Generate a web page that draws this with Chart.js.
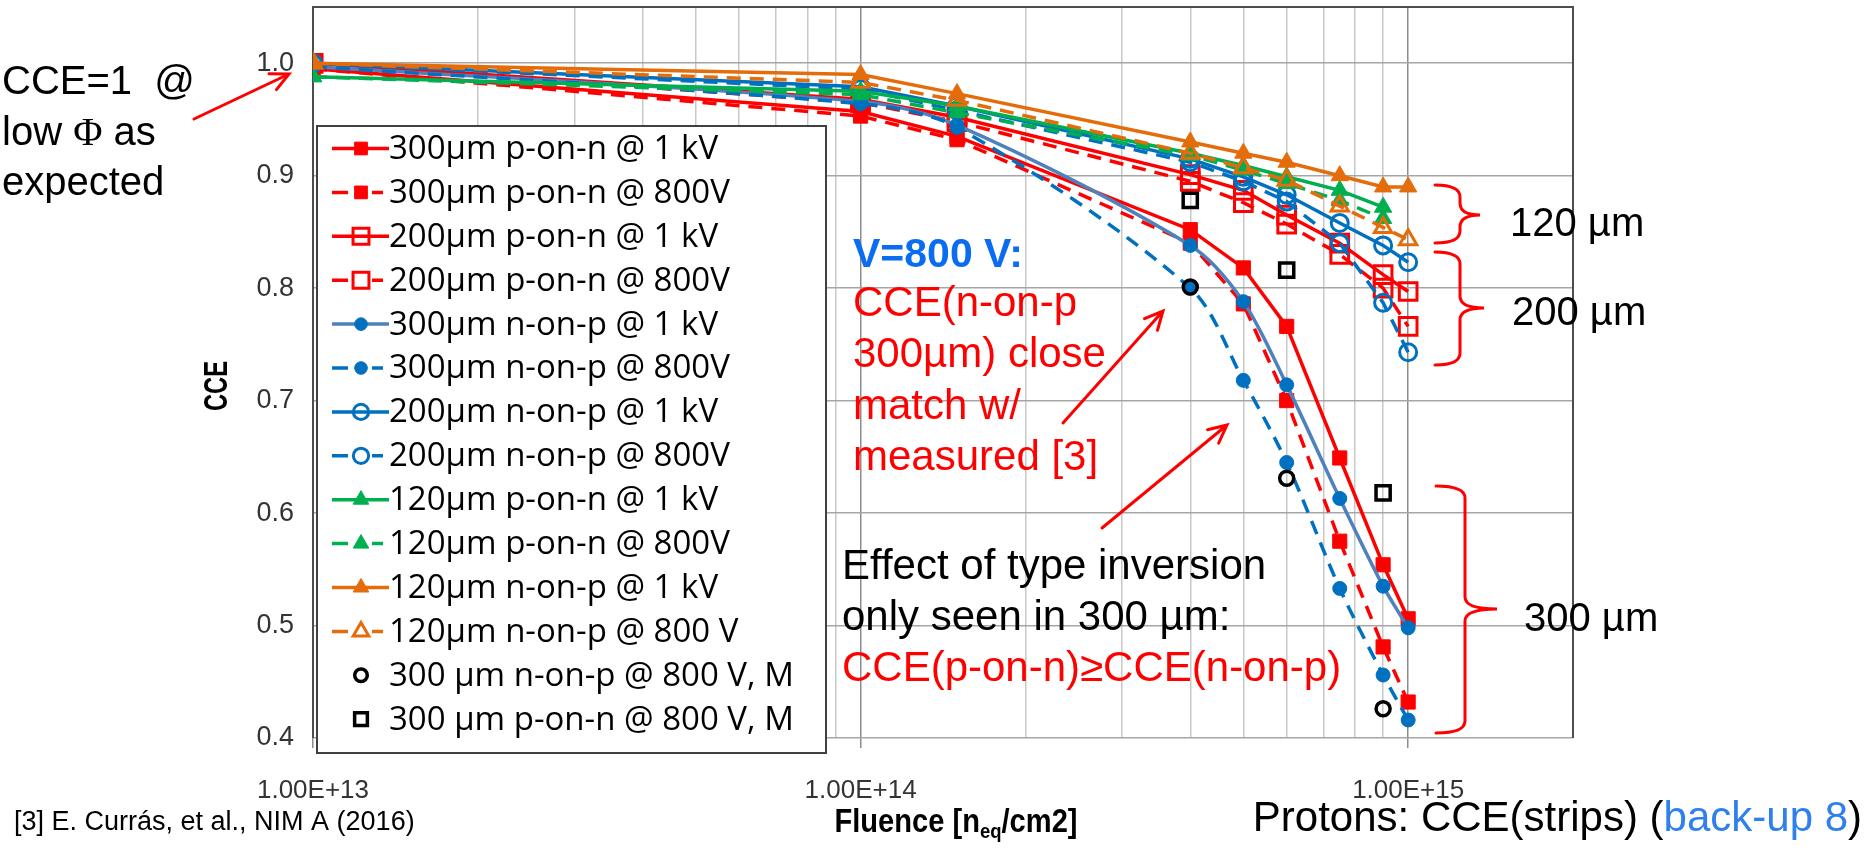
<!DOCTYPE html>
<html>
<head>
<meta charset="utf-8">
<title>Protons: CCE(strips)</title>
<script src="https://cdn.jsdelivr.net/npm/chart.js@4.4.1/dist/chart.umd.min.js"></script>
<style>
  html, body { margin: 0; padding: 0; background: #fff; }
  canvas { display: block; }
</style>
</head>
<body>
<canvas id="cceChart" width="1864" height="850"></canvas>
<script>
// fluence points [n_eq/cm2]
const fluence = [1e13, 1e14, 1.5e14, 4e14, 5e14, 6e14, 7.5e14, 9e14, 1e15];

// simulated CCE (null = no point)
const p300_1kV  = [0.995, 0.957, 0.935, 0.852, 0.818, 0.766, 0.649, 0.554, 0.506];
const p300_800V = [0.995, 0.953, 0.932, 0.840, 0.786, 0.700, 0.575, 0.481, 0.432];
const p200_1kV  = [1.000, 0.968, 0.952, 0.901, 0.887, 0.865, 0.840, 0.812, 0.797];
const p200_800V = [1.000, 0.965, 0.948, 0.895, 0.876, 0.857, 0.830, 0.800, 0.766];
const n300_1kV  = [0.997, 0.966, 0.945, 0.838, 0.788, 0.714, 0.613, 0.535, 0.498];
const n300_800V = [0.997, 0.964, 0.943, 0.800, 0.718, 0.645, 0.533, 0.456, 0.416];
const n200_1kV  = [1.000, 0.979, 0.962, 0.915, 0.899, 0.883, 0.858, 0.838, 0.823];
const n200_800V = [1.000, 0.977, 0.958, 0.912, 0.895, 0.877, 0.840, 0.787, 0.743];
const p120_1kV  = [0.988, 0.975, 0.962, 0.920, 0.909, 0.899, 0.887, 0.872, null];
const p120_800V = [0.988, 0.972, 0.956, 0.918, 0.905, 0.893, 0.878, 0.862, null];
const n120_1kV  = [1.000, 0.990, 0.973, 0.930, 0.920, 0.912, 0.900, 0.890, 0.890];
const n120_800V = [1.000, 0.983, 0.967, 0.920, 0.907, 0.896, 0.873, 0.854, 0.843];
// measured [3]
const meas_n300 = [null, null, null, 0.801, null, 0.631, null, 0.426, null];
const meas_p300 = [null, null, null, 0.878, null, 0.816, null, 0.618, null];

const seriesLabels = [
  '300µm p-on-n @ 1 kV', '300µm p-on-n @ 800V', '200µm p-on-n @ 1 kV', '200µm p-on-n @ 800V',
  '300µm n-on-p @ 1 kV', '300µm n-on-p @ 800V', '200µm n-on-p @ 1 kV', '200µm n-on-p @ 800V',
  '120µm p-on-n @ 1 kV', '120µm p-on-n @ 800V', '120µm n-on-p @ 1 kV', '120µm n-on-p @ 800 V',
  '300 µm n-on-p @ 800 V, M', '300 µm p-on-n @ 800 V, M'
];
const seriesValues = [
  p300_1kV, p300_800V, p200_1kV, p200_800V,
  n300_1kV, n300_800V, n200_1kV, n200_800V,
  p120_1kV, p120_800V, n120_1kV, n120_800V,
  meas_n300, meas_p300
];

const yTickValues = [0.4, 0.5, 0.6, 0.7, 0.8, 0.9, 1.0];
const yTickLabels = ['0.4', '0.5', '0.6', '0.7', '0.8', '0.9', '1.0'];
const xTickValues = [1e13, 1e14, 1e15];
const xTickLabels = ['1.00E+13', '1.00E+14', '1.00E+15'];

// colours / marker styles
const RED = '#ff0000', BLUE = '#0070c0', STEEL = '#4f81bd', GREEN = '#00b050', ORANGE = '#e46c0a';
const styles = [
  {color: RED, dash: false, marker: 'rect', filled: true, r: 10},
  {color: RED, dash: true,  marker: 'rect', filled: true, r: 10},
  {color: RED, dash: false, marker: 'rect', filled: false, r: 12.5},
  {color: RED, dash: true,  marker: 'rect', filled: false, r: 12.5},
  {color: BLUE, lineColor: STEEL, dash: false, marker: 'circle', filled: true, r: 7, smooth: true},
  {color: BLUE, dash: true,  marker: 'circle', filled: true, r: 7, smooth: true},
  {color: BLUE, dash: false, marker: 'circle', filled: false, r: 8.5},
  {color: BLUE, dash: true,  marker: 'circle', filled: false, r: 8.5},
  {color: GREEN, dash: false, marker: 'triangle', filled: true, r: 10},
  {color: GREEN, dash: true,  marker: 'triangle', filled: true, r: 10},
  {color: ORANGE, dash: false, marker: 'triangle', filled: true, r: 10},
  {color: ORANGE, dash: true,  marker: 'triangle', filled: false, r: 10},
  {color: '#000', noLine: true, marker: 'circle', filled: false, r: 7, bw: 3.5},
  {color: '#000', noLine: true, marker: 'rect', filled: false, r: 10, bw: 3.5}
];

const datasets = seriesValues.map((vals, i) => {
  const s = styles[i];
  return {
    label: seriesLabels[i],
    data: fluence.map((f, j) => ({x: f, y: vals[j]})),
    showLine: !s.noLine,
    borderColor: s.lineColor || s.color,
    borderWidth: 3.5,
    borderDash: s.dash ? [14, 9] : [],
    tension: s.smooth ? 0.3 : 0,
    pointStyle: s.marker,
    pointRadius: s.r,
    pointHoverRadius: s.r,
    pointBorderWidth: s.bw || (s.filled ? 1 : 3),
    pointBorderColor: s.color,
    pointBackgroundColor: s.filled ? s.color : 'rgba(0,0,0,0)',
    order: 20 - i
  };
});

const SANS = '"Liberation Sans", Arial, sans-serif';

function text(ctx, str, x, y, font, color, align) {
  ctx.font = font;
  ctx.fillStyle = color;
  ctx.textAlign = align || 'left';
  ctx.textBaseline = 'middle';
  ctx.fillText(str, x, y);
  return ctx.measureText(str).width;
}

function arrow(ctx, x1, y1, x2, y2) {
  const a = Math.atan2(y2 - y1, x2 - x1), h = 20, w = 0.45;
  ctx.beginPath();
  ctx.moveTo(x1, y1);
  ctx.lineTo(x2, y2);
  ctx.moveTo(x2 - h * Math.cos(a - w), y2 - h * Math.sin(a - w));
  ctx.lineTo(x2, y2);
  ctx.lineTo(x2 - h * Math.cos(a + w), y2 - h * Math.sin(a + w));
  ctx.stroke();
}

function brace(ctx, xEnd, top, bottom, xSpine, xTip, yMid) {
  const r = 12;
  ctx.beginPath();
  ctx.moveTo(xEnd, top);
  ctx.quadraticCurveTo(xSpine, top, xSpine, top + r);
  ctx.lineTo(xSpine, yMid - r);
  ctx.quadraticCurveTo(xSpine, yMid, xTip, yMid);
  ctx.quadraticCurveTo(xSpine, yMid, xSpine, yMid + r);
  ctx.lineTo(xSpine, bottom - r);
  ctx.quadraticCurveTo(xSpine, bottom, xEnd, bottom);
  ctx.stroke();
}

function drawMarker(ctx, s, x, y) {
  ctx.save();
  ctx.lineWidth = s.bw || (s.filled ? 1 : 3);
  ctx.strokeStyle = s.color;
  ctx.fillStyle = s.color;
  ctx.setLineDash([]);
  ctx.beginPath();
  if (s.marker === 'rect') {
    const h = s.r * Math.SQRT1_2;
    ctx.rect(x - h, y - h, 2 * h, 2 * h);
  } else if (s.marker === 'circle') {
    ctx.arc(x, y, s.r, 0, Math.PI * 2);
  } else {
    for (let k = 0; k < 3; k++) {
      const a = k * 2 * Math.PI / 3;
      const px = x + Math.sin(a) * s.r, py = y - Math.cos(a) * s.r;
      if (k === 0) ctx.moveTo(px, py); else ctx.lineTo(px, py);
    }
    ctx.closePath();
  }
  if (s.filled) ctx.fill();
  ctx.stroke();
  ctx.restore();
}

const decorations = {
  id: 'decorations',
  beforeDatasetsDraw(chart) {
    const ctx = chart.ctx, a = chart.chartArea;
    ctx.save();
    ctx.strokeStyle = '#4d4d4d';
    ctx.lineWidth = 2;
    ctx.beginPath();
    ctx.moveTo(a.left, a.bottom);
    ctx.lineTo(a.left, a.top);
    ctx.lineTo(a.right, a.top);
    ctx.lineTo(a.right, a.bottom);
    ctx.stroke();
    ctx.restore();
  },
  afterDatasetsDraw(chart) {
    const ctx = chart.ctx;
    ctx.save();

    // legend box
    ctx.fillStyle = '#fff';
    ctx.fillRect(317, 126, 509, 627);
    ctx.strokeStyle = '#404040';
    ctx.lineWidth = 2;
    ctx.strokeRect(317, 126, 509, 627);
    seriesLabels.forEach((lab, i) => {
      const s = styles[i];
      const cy = 148.5 + i * 43.9;
      if (!s.noLine) {
        ctx.strokeStyle = s.lineColor || s.color;
        ctx.lineWidth = 3.5;
        ctx.beginPath();
        if (s.dash) {
          ctx.moveTo(332, cy); ctx.lineTo(348, cy);
          ctx.moveTo(372, cy); ctx.lineTo(383, cy);
        } else {
          ctx.moveTo(332, cy); ctx.lineTo(389, cy);
        }
        ctx.stroke();
      }
      drawMarker(ctx, Object.assign({}, s, {r: s.r * 0.9}), 361, cy);
      text(ctx, lab, 389, cy + 1, '33px "Open Sans", sans-serif', '#000');
    });

    // axis titles (condensed to look like the original bold face)
    ctx.save();
    ctx.translate(218, 386);
    ctx.rotate(-Math.PI / 2);
    ctx.scale(0.7, 1);
    text(ctx, 'CCE', 0, 0, 'bold 34px ' + SANS, '#000', 'center');
    ctx.restore();

    const tf = 'bold 33px ' + SANS, sf = 'bold 21px ' + SANS;
    ctx.font = tf;
    const w1 = ctx.measureText('Fluence [n').width, w3 = ctx.measureText('/cm2]').width;
    ctx.font = sf;
    const w2 = ctx.measureText('eq').width;
    const sx = 243 / (w1 + w2 + w3);
    ctx.save();
    ctx.translate(956 - 121.5, 0);
    ctx.scale(sx, 1);
    let tx = 0;
    tx += text(ctx, 'Fluence [n', tx, 823, tf, '#000');
    tx += text(ctx, 'eq', tx, 832, sf, '#000');
    text(ctx, '/cm2]', tx, 823, tf, '#000');
    ctx.restore();

    // left note
    text(ctx, 'CCE=1  @', 2, 83, '40px ' + SANS, '#000');
    let lx = 2;
    lx += text(ctx, 'low ', lx, 134, '40px ' + SANS, '#000');
    lx += text(ctx, 'Φ', lx, 134, '40px "Liberation Serif", serif', '#000');
    text(ctx, ' as', lx, 134, '40px ' + SANS, '#000');
    text(ctx, 'expected', 2, 184, '40px ' + SANS, '#000');

    // in-plot notes
    text(ctx, 'V=800 V:', 853, 256, 'bold 41px ' + SANS, '#0a6cf0');
    ['CCE(n-on-p', '300µm) close', 'match w/', 'measured [3]'].forEach((t, i) =>
      text(ctx, t, 853, 304 + i * 51.5, '42px ' + SANS, RED));
    text(ctx, 'Effect of type inversion', 842, 567, '42px ' + SANS, '#000');
    text(ctx, 'only seen in 300 µm:', 842, 618, '42px ' + SANS, '#000');
    text(ctx, 'CCE(p-on-n)≥CCE(n-on-p)', 842, 669, '42px ' + SANS, RED);

    // arrows and braces
    ctx.strokeStyle = RED;
    ctx.lineWidth = 3;
    ctx.lineCap = 'round';
    arrow(ctx, 194, 119, 289, 74);
    arrow(ctx, 1063, 423, 1163, 311);
    arrow(ctx, 1102, 528, 1227, 425);
    brace(ctx, 1435, 185, 243, 1460, 1480, 215);
    brace(ctx, 1435, 252, 365, 1460, 1484, 308);
    brace(ctx, 1436, 486, 733, 1465, 1497, 609);
    text(ctx, '120 µm', 1510, 225, '40px ' + SANS, '#000');
    text(ctx, '200 µm', 1512, 314, '40px ' + SANS, '#000');
    text(ctx, '300 µm', 1524, 620, '40px ' + SANS, '#000');

    // footer
    text(ctx, '[3] E. Currás, et al., NIM A (2016)', 14, 823, '27px ' + SANS, '#000');
    const ff = '42px ' + SANS;
    ctx.font = ff;
    const pa = 'Protons: CCE(strips) (', pb = 'back-up 8', pc = ')';
    const tw = ctx.measureText(pa + pb + pc).width;
    let fx = 1862 - tw;
    fx += text(ctx, pa, fx, 819, ff, '#000');
    fx += text(ctx, pb, fx, 819, ff, '#2f80ed');
    text(ctx, pc, fx, 819, ff, '#000');

    ctx.restore();
  }
};

Chart.defaults.font.family = SANS;

new Chart(document.getElementById('cceChart'), {
  type: 'line',
  data: {datasets: datasets},
  options: {
    responsive: false,
    animation: false,
    layout: {autoPadding: false, padding: {left: 0, top: 7, right: 291, bottom: 0}},
    plugins: {legend: {display: false}, tooltip: {enabled: false}},
    scales: {
      x: {
        type: 'logarithmic',
        min: 1e13,
        max: 2e15,
        afterFit: scale => {
          scale.height = 112;
          scale.paddingLeft = 0;
          scale.paddingRight = 0;
        },
        afterBuildTicks: scale => {
          const vals = [];
          xTickValues.forEach(dec => {
            for (let k = 1; k <= 9; k++) {
              const v = dec * k;
              if (v <= 2e15) vals.push(v);
            }
          });
          scale.ticks = vals.map(v => ({value: v}));
        },
        ticks: {
          autoSkip: false,
          maxRotation: 0,
          minRotation: 0,
          padding: 27,
          color: '#333',
          font: {size: 26},
          callback: v => {
            const k = xTickValues.indexOf(v);
            return k >= 0 ? xTickLabels[k] : '';
          }
        },
        grid: {
          lineWidth: 1.5,
          tickLength: 10,
          color: c => (c.tick && xTickValues.includes(c.tick.value)) ? '#8c8c8c' : '#c8c8c8',
          tickColor: c => (c.tick && xTickValues.includes(c.tick.value)) ? '#8c8c8c' : 'rgba(0,0,0,0)'
        },
        border: {display: false}
      },
      y: {
        type: 'linear',
        min: 0.4,
        max: 1.05,
        afterFit: scale => {
          scale.width = 313;
          scale.paddingTop = 0;
          scale.paddingBottom = 0;
        },
        afterBuildTicks: scale => { scale.ticks = yTickValues.map(v => ({value: v})); },
        ticks: {
          padding: 19,
          color: '#333',
          font: {size: 27},
          callback: v => yTickLabels[yTickValues.indexOf(v)]
        },
        grid: {color: '#a6a6a6', lineWidth: 1.5, drawTicks: false},
        border: {display: false}
      }
    }
  },
  plugins: [decorations]
});
</script>
</body>
</html>
